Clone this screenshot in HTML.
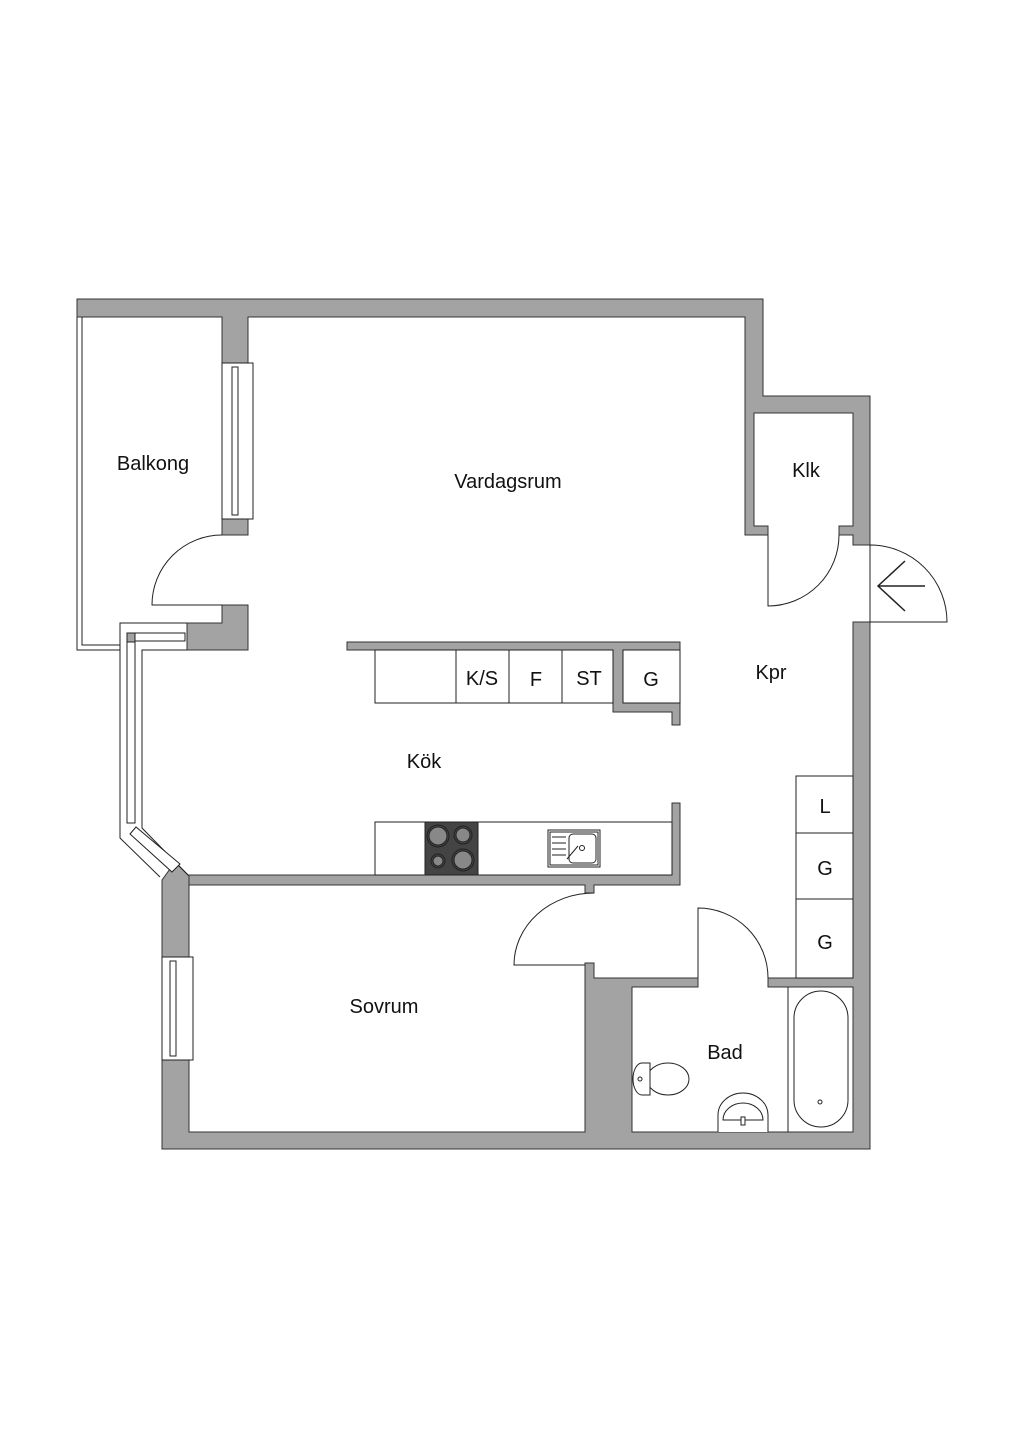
<!DOCTYPE html>
<html><head><meta charset="utf-8"><style>
html,body{margin:0;padding:0;background:#fff;}
svg{display:block}
text{font-family:"Liberation Sans",sans-serif;fill:#111;}
</style></head><body>
<svg width="1024" height="1448" viewBox="0 0 1024 1448" xmlns="http://www.w3.org/2000/svg">
<g fill="#a3a3a3" stroke="#333" stroke-width="1">
<polygon points="77,299 763,299 763,396 870,396 870,545 853,545 853,535 839,535 839,526 853,526 853,413 754,413 754,526 768,526 768,535 745,535 745,317 248,317 248,363 222,363 222,317 77,317"/>
<rect x="222" y="519" width="26" height="16"/>
<polygon points="222,605 248,605 248,650 187,650 187,623 222,623"/>
<polygon points="853,622 870,622 870,1149 162,1149 162,880 175,862 189,876 189,1132 585,1132 585,963 594,963 594,978 698,978 698,987 632,987 632,1132 853,1132 853,987 768,987 768,978 853,978"/>
<polygon points="189,875 672,875 672,803 680,803 680,885 594,885 594,893 585,893 585,885 189,885"/>
<polygon points="347,642 680,642 680,725 672,725 672,712 613,712 613,650 347,650"/>
</g>
<g fill="#fff" stroke="#222" stroke-width="1">
<!-- balcony -->
<polyline fill="none" points="77,317 77,650 120,650"/>
<polyline fill="none" points="82,317 82,645 120,645"/>
<!-- windows -->
<rect x="222" y="363" width="31" height="156"/>
<rect x="232" y="367" width="6" height="148"/>
<rect x="162" y="957" width="31" height="103"/>
<rect x="170" y="961" width="6" height="95"/>
<!-- bay window -->
<polyline fill="none" points="187,623 120,623 120,838 160,877"/>
<polyline fill="none" points="187,650 142,650 142,828 188,875"/>
<rect x="127" y="633" width="8" height="190"/>
<rect x="135" y="633" width="50" height="8"/>
<rect x="127" y="633" width="8" height="9" fill="#a3a3a3"/>
<polygon points="130,834 136,827 180,864 172,872"/>
<!-- counters -->
<rect x="375" y="650" width="238" height="53"/>
<line x1="456" y1="650" x2="456" y2="703"/><line x1="509" y1="650" x2="509" y2="703"/><line x1="562" y1="650" x2="562" y2="703"/>
<rect x="623" y="650" width="57" height="53"/>
<rect x="375" y="822" width="297" height="53"/>
<rect x="425" y="822" width="53" height="53" fill="#444"/>
<circle cx="438" cy="836" r="9" fill="#888"/><circle cx="438" cy="836" r="11" fill="none"/>
<circle cx="463" cy="835" r="7" fill="#888"/><circle cx="463" cy="835" r="9" fill="none"/>
<circle cx="438" cy="861" r="5" fill="#888"/><circle cx="438" cy="861" r="7" fill="none"/>
<circle cx="463" cy="860" r="9" fill="#888"/><circle cx="463" cy="860" r="11" fill="none"/>
<rect x="548" y="830" width="52" height="37" fill="#fff"/>
<rect x="550" y="832" width="48" height="33" fill="none"/>
<rect x="569" y="834" width="27" height="29" rx="4"/>
<line x1="552" y1="837" x2="566" y2="837"/><line x1="552" y1="843" x2="566" y2="843"/><line x1="552" y1="849" x2="566" y2="849"/><line x1="552" y1="855" x2="566" y2="855"/>
<line x1="567" y1="859" x2="578" y2="846"/><circle cx="582" cy="848" r="2.5"/>
<!-- closets -->
<rect x="796" y="776" width="57" height="57"/>
<rect x="796" y="833" width="57" height="66"/>
<rect x="796" y="899" width="57" height="79"/>
<!-- bath -->
<line x1="788" y1="987" x2="788" y2="1132"/>
<rect x="794" y="991" width="54" height="136" rx="27"/>
<circle cx="820" cy="1102" r="2"/>
<ellipse cx="668" cy="1079" rx="21" ry="16"/>
<path d="M650,1063 H642 A9,16 0 0 0 642,1095 H650 Z"/>
<circle cx="640" cy="1079" r="2"/>
<path d="M718,1132 V1115 A25,22 0 0 1 768,1115 V1132"/>
<path d="M723,1120 A20,17 0 0 1 763,1120 Z"/>
<rect x="741" y="1117" width="4" height="8"/>
</g>
<!-- doors -->
<g fill="none" stroke="#222" stroke-width="1">
<path d="M222,535 A70,70 0 0 0 152,605 H222"/>
<path d="M768,535 V606 A71,71 0 0 0 839,535"/>
<path d="M870,545 A77,77 0 0 1 947,622 H870 Z"/>
<path d="M925,586 H878 M905,561 L878,586 L905,611" stroke-width="1.5"/>
<path d="M594,893 A80,72 0 0 0 514,965 H585"/>
<path d="M768,978 A70,70 0 0 0 698,908 V978"/>
</g>
<g font-size="20" text-anchor="middle">
<text x="153" y="470">Balkong</text>
<text x="508" y="488">Vardagsrum</text>
<text x="806" y="477">Klk</text>
<text x="771" y="679">Kpr</text>
<text x="424" y="768">Kök</text>
<text x="384" y="1013">Sovrum</text>
<text x="725" y="1059">Bad</text>
<text x="482" y="685">K/S</text>
<text x="536" y="686">F</text>
<text x="589" y="685">ST</text>
<text x="651" y="686">G</text>
<text x="825" y="813">L</text>
<text x="825" y="875">G</text>
<text x="825" y="949">G</text>
</g>
</svg>
</body></html>
